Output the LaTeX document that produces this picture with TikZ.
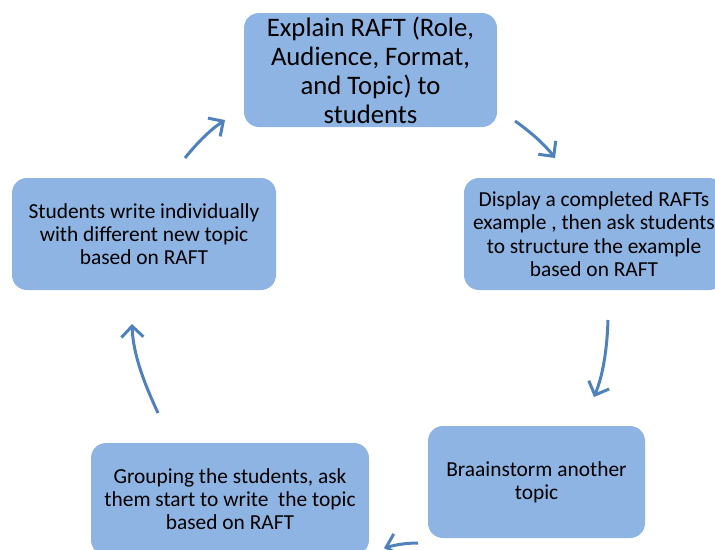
\documentclass[tikz,border=0pt]{standalone}
\usepackage{fontspec}
\setmainfont{Carlito}
\usetikzlibrary{arrows.meta}
\definecolor{boxfill}{RGB}{142,180,227}
\definecolor{arrowblue}{RGB}{79,129,189}
\begin{document}
\begin{tikzpicture}[x=1pt,y=-1pt,
  stepbox/.style={fill=boxfill,draw=none,rounded corners=15pt,inner sep=0pt,align=center,font=\fontsize{21.4}{23.3}\selectfont},
  cyc/.style={draw=arrowblue,line width=3pt,-{Straight Barb[length=11pt,width=22pt,line width=3pt]}}]
\useasboundingbox (0,0) rectangle (715,549);
\clip (0,0) rectangle (715,549);
\node[stepbox,minimum width=253pt,minimum height=114pt,font=\fontsize{26.7}{29}\selectfont] (explain) at (370.5,70) {Explain RAFT (Role,\\Audience, Format,\\and Topic) to\\students};
\node[stepbox,minimum width=260pt,minimum height=112pt] (display) at (594,234) {Display a completed RAFTs\\example , then ask students\\to structure the example\\based on RAFT};
\node[stepbox,minimum width=217pt,minimum height=112pt] (brain) at (536.5,482) {Braainstorm another\\topic};
\node[stepbox,minimum width=278pt,minimum height=112pt] (group) at (230,499) {Grouping the students, ask\\them start to write\ \ the topic\\based on RAFT};
\node[stepbox,minimum width=264pt,minimum height=112pt] (write) at (144,234) {Students write individually\\with different new topic\\based on RAFT};
\coordinate (a1s) at (515,121); \coordinate (a1e) at (555,158);
\coordinate (a2s) at (608,320); \coordinate (a2e) at (594,397);
\coordinate (a3s) at (418,543); \coordinate (a3e) at (384,548);
\coordinate (a4s) at (158,413); \coordinate (a4e) at (132,324);
\coordinate (a5s) at (185,158); \coordinate (a5e) at (225,120);
\draw[cyc] (a1s) .. controls (532,133) and (545,145) .. (a1e);
\draw[cyc] (a2s) .. controls (607,350) and (603,375) .. (a2e);
\draw[cyc] (a3s) .. controls (405,543) and (395,545) .. (a3e);
\draw[cyc] (a4s) .. controls (145,385) and (133,355) .. (a4e);
\draw[cyc] (a5s) .. controls (197,143) and (210,130) .. (a5e);
\end{tikzpicture}
\end{document}
